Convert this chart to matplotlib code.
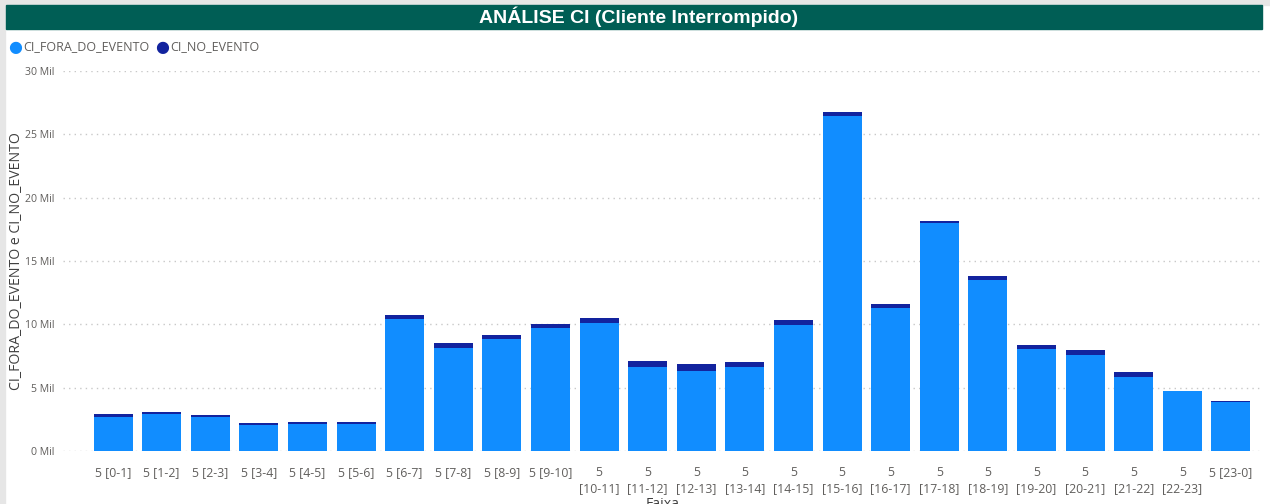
import matplotlib.pyplot as plt
from matplotlib.patches import Rectangle
from matplotlib.ticker import FuncFormatter, MultipleLocator

# dados (milhares de clientes)
faixas = ["5 [0-1]", "5 [1-2]", "5 [2-3]", "5 [3-4]", "5 [4-5]", "5 [5-6]",
          "5 [6-7]", "5 [7-8]", "5 [8-9]", "5 [9-10]", "5\n[10-11]", "5\n[11-12]",
          "5\n[12-13]", "5\n[13-14]", "5\n[14-15]", "5\n[15-16]", "5\n[16-17]",
          "5\n[17-18]", "5\n[18-19]", "5\n[19-20]", "5\n[20-21]", "5\n[21-22]",
          "5\n[22-23]", "5 [23-0]"]
ci_fora = [2.68, 2.92, 2.66, 2.02, 2.13, 2.13, 10.40, 8.11, 8.84, 9.71, 10.08, 6.60,
           6.34, 6.63, 9.97, 26.45, 11.26, 17.97, 13.47, 8.03, 7.58, 5.87, 4.74, 3.90]
ci_no = [0.24, 0.18, 0.21, 0.19, 0.19, 0.19, 0.34, 0.39, 0.34, 0.34, 0.45, 0.53,
         0.50, 0.40, 0.37, 0.34, 0.35, 0.21, 0.37, 0.36, 0.39, 0.34, 0.03, 0.03]

azul = "#118DFF"
azul_escuro = "#12239E"
cinza = "#605E5C"

plt.rcParams['font.family'] = ['Open Sans', 'DejaVu Sans']

fig = plt.figure(figsize=(12.7, 5.04), dpi=100)

# borda cinza e faixa do título
fig.patches.append(Rectangle((0, 0), 0.004, 1, transform=fig.transFigure,
                             color="#E6E6E6", zorder=0))
fig.patches.append(Rectangle((0.004, 0.99), 0.996, 0.01, transform=fig.transFigure,
                             color="#E6E6E6", zorder=0))
fig.patches.append(Rectangle((0.005, 1 - 29 / 504), 0.989, 24 / 504,
                             transform=fig.transFigure, color="#005E55", zorder=1))
fig.text(0.503, 1 - 17 / 504, "ANÁLISE CI (Cliente Interrompido)", color="white",
         fontsize=14, fontweight="bold", family="Liberation Sans",
         ha="center", va="center")

# legenda
fig.text(15 / 1270, 1 - 47.5 / 504, "●", color=azul, fontsize=11.5, ha="center", va="center",
         family="DejaVu Sans")
fig.text(23 / 1270, 1 - 47 / 504, "CI_FORA_DO_EVENTO", color=cinza, fontsize=9.0,
         ha="left", va="center")
fig.text(162 / 1270, 1 - 47.5 / 504, "●", color=azul_escuro, fontsize=11.5, ha="center",
         va="center", family="DejaVu Sans")
fig.text(170 / 1270, 1 - 47 / 504, "CI_NO_EVENTO", color=cinza, fontsize=9.0,
         ha="left", va="center")

ax = fig.add_axes([63 / 1270, 1 - 451 / 504, (1262 - 63) / 1270, 380 / 504])
x = list(range(len(faixas)))
ax.bar(x, ci_fora, width=0.8, color=azul, zorder=3)
ax.bar(x, ci_no, width=0.8, bottom=ci_fora, color=azul_escuro, zorder=3)

ax.set_ylim(0, 30)
ax.set_xlim(-1.03, 23.64)
ax.yaxis.set_major_locator(MultipleLocator(5))
ax.yaxis.set_major_formatter(FuncFormatter(lambda v, p: "%d Mil" % v))
ax.grid(axis="y", linestyle=(0, (1, 3)), color="#C8C8C8", linewidth=1, zorder=0)
for s in ax.spines.values():
    s.set_visible(False)
ax.tick_params(axis="y", length=0, pad=6, labelcolor=cinza, labelsize=7.6)
ax.tick_params(axis="x", length=0, pad=11, labelcolor=cinza, labelsize=8.8)
ax.set_xticks(x)
ax.set_xticklabels(faixas, va="top", linespacing=1.25)

ax.set_ylabel("CI_FORA_DO_EVENTO e CI_NO_EVENTO", color="#404040", fontsize=10.2)
ax.yaxis.set_label_coords(-39 / 1199, 0.5)
ax.set_xlabel("Faixa", color="#404040", fontsize=10.2)
ax.xaxis.set_label_coords((663 - 63) / 1199, -46 / 380)

fig.savefig("out.png", dpi=100)
